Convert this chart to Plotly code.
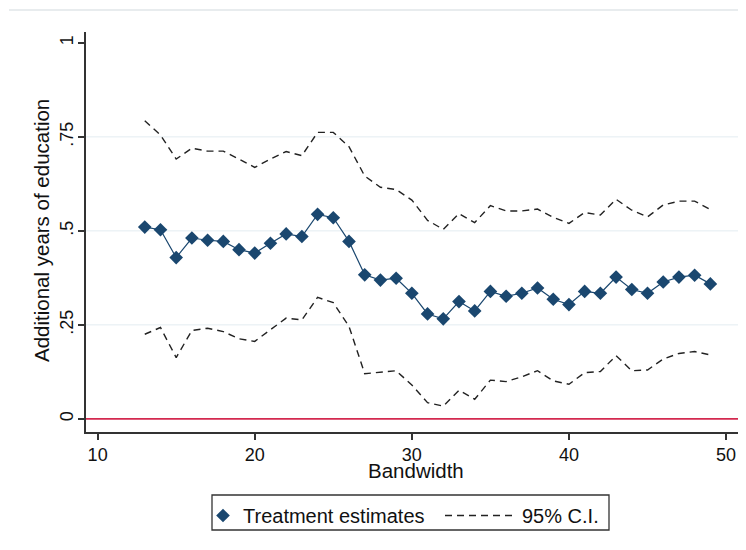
import plotly.graph_objects as go

bandwidth = list(range(13, 50))
estimates = [0.510, 0.503, 0.429, 0.481, 0.475, 0.472, 0.450, 0.441, 0.467, 0.492,
             0.485, 0.544, 0.535, 0.472, 0.383, 0.369, 0.374, 0.334, 0.279, 0.266,
             0.312, 0.287, 0.339, 0.326, 0.334, 0.348, 0.318, 0.304, 0.339, 0.334,
             0.377, 0.344, 0.334, 0.364, 0.377, 0.382, 0.359]
ci_upper = [0.793, 0.755, 0.691, 0.720, 0.712, 0.712, 0.691, 0.669, 0.691, 0.711,
            0.700, 0.762, 0.762, 0.724, 0.646, 0.616, 0.610, 0.582, 0.528, 0.504,
            0.546, 0.522, 0.567, 0.553, 0.553, 0.558, 0.536, 0.520, 0.549, 0.542,
            0.584, 0.555, 0.537, 0.569, 0.579, 0.579, 0.557]
ci_lower = [0.225, 0.243, 0.163, 0.235, 0.241, 0.232, 0.213, 0.206, 0.237, 0.268,
            0.263, 0.323, 0.309, 0.246, 0.120, 0.125, 0.128, 0.090, 0.043, 0.034,
            0.076, 0.052, 0.103, 0.099, 0.112, 0.128, 0.101, 0.092, 0.123, 0.126,
            0.168, 0.128, 0.130, 0.159, 0.174, 0.179, 0.170]

x_ticks = [10, 20, 30, 40, 50]
y_ticks = [0, 0.25, 0.5, 0.75, 1]
y_ticklabels = ["0", ".25", ".5", ".75", "1"]
grid_levels = [0.25, 0.5, 0.75]

NAVY = "#1a476f"
FONT = "Liberation Sans, Arial, sans-serif"

# page body adds an 8px margin; work in screen pixels and convert
OFF = 8
FIG_W, FIG_H = 746 - OFF, 550 - OFF
L, R, T, B = 86 - OFF, 738 - OFF, 32 - OFF, 432 - OFF
W, H = R - L, B - T


def px(xs):
    return (xs - OFF - L) / W


def py(ys):
    return (B - (ys - OFF)) / H


fig = go.Figure()

for g in grid_levels:
    fig.add_hline(y=g, line=dict(color="#e3ecf1", width=1), layer="below")
fig.add_hline(y=0, line=dict(color="#d3294f", width=1.6))

fig.add_trace(go.Scatter(x=bandwidth, y=estimates, mode="lines",
                         line=dict(color=NAVY, width=1.2), showlegend=False,
                         hoverinfo="skip"))
fig.add_trace(go.Scatter(x=bandwidth, y=estimates, mode="markers",
                         marker=dict(symbol="diamond", size=10.5, color=NAVY),
                         name="Treatment estimates", legend="legend"))
fig.add_trace(go.Scatter(x=bandwidth, y=ci_upper, mode="lines",
                         line=dict(color="#222222", width=1.4, dash="7px,5px"),
                         name="95% C.I.", legendgroup="ci", legend="legend2"))
fig.add_trace(go.Scatter(x=bandwidth, y=ci_lower, mode="lines",
                         line=dict(color="#222222", width=1.4, dash="7px,5px"),
                         name="95% C.I.", legendgroup="ci", showlegend=False,
                         legend="legend2"))

# light rule at top and cut-off panel label
fig.add_shape(type="line", xref="paper", yref="paper", x0=px(9), x1=px(760),
              y0=py(10), y1=py(10), line=dict(color="#e8ecee", width=2))
fig.add_annotation(text="(a)", xref="paper", yref="paper", x=px(272),
                   y=py(4), yanchor="bottom", showarrow=False,
                   font=dict(size=22, color="#333", family=FONT))

# axis titles
fig.add_annotation(text="Bandwidth", xref="paper", yref="paper", x=px(416),
                   y=py(470), yanchor="middle", showarrow=False,
                   font=dict(size=20.5, color="#111", family=FONT))
fig.add_annotation(text="Additional years of education", xref="paper", yref="paper",
                   x=px(41), y=py(231), xanchor="center", yanchor="middle",
                   textangle=-90, showarrow=False,
                   font=dict(size=20.5, color="#111", family=FONT))

# legend frame
fig.add_shape(type="rect", xref="paper", yref="paper", x0=px(212), x1=px(609),
              y0=py(495), y1=py(530), line=dict(color="#333", width=1.3),
              fillcolor="rgba(0,0,0,0)")

fig.update_layout(
    width=FIG_W, height=FIG_H,
    margin=dict(l=L, r=FIG_W - R, t=T, b=FIG_H - B),
    paper_bgcolor="white", plot_bgcolor="white",
    font=dict(family=FONT, size=18, color="#111"),
    xaxis=dict(range=[9.26, 50.76], tickvals=x_ticks, showgrid=False, zeroline=False,
               showline=True, linecolor="#333", linewidth=1.5, ticks="outside",
               ticklen=6, tickcolor="#333", tickwidth=1.5, automargin=False),
    yaxis=dict(range=[-0.035, 1.029], tickvals=y_ticks, ticktext=y_ticklabels,
               tickangle=-90, showgrid=False, zeroline=False,
               showline=True, linecolor="#333", linewidth=1.5, ticks="outside",
               ticklen=6, tickcolor="#333", tickwidth=1.5, automargin=False,
               ticklabelstandoff=-2),
    legend=dict(orientation="h", x=px(203), xanchor="left",
                y=py(496), yanchor="top", borderwidth=0, font=dict(size=20),
                itemwidth=30, bgcolor="rgba(0,0,0,0)"),
    legend2=dict(orientation="h", x=px(440), xanchor="left",
                 y=py(496), yanchor="top", borderwidth=0, font=dict(size=20),
                 itemwidth=72, bgcolor="rgba(0,0,0,0)"),
)

fig.write_html("out.html")
